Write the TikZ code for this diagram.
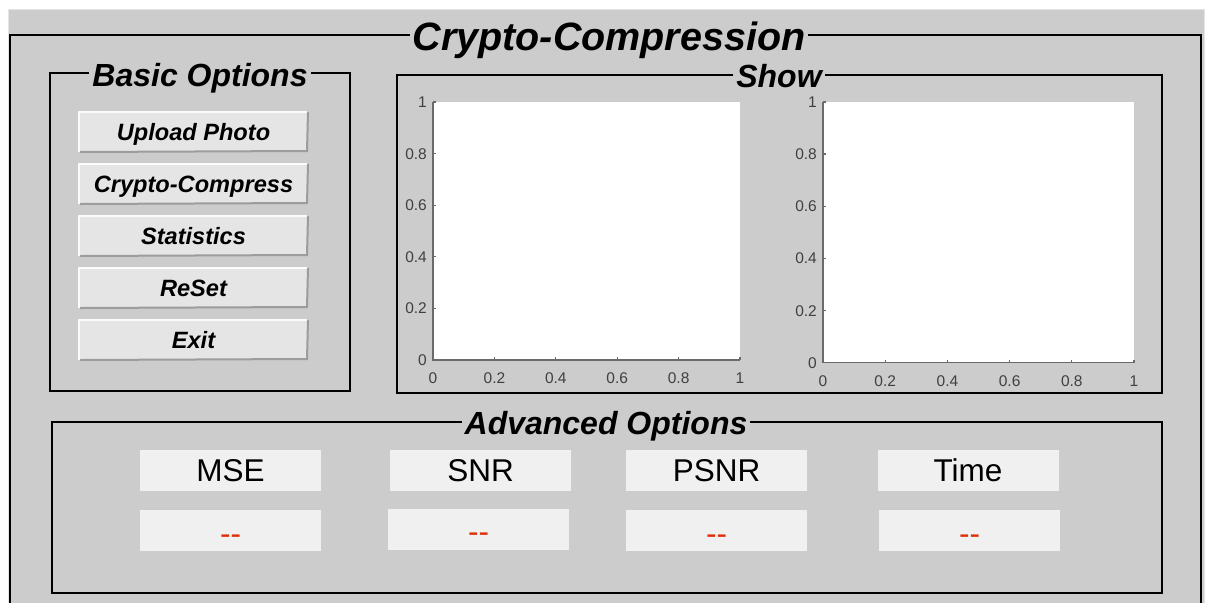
\documentclass[tikz,border=0pt]{standalone}
\usepackage{fontspec}
\setmainfont{Liberation Sans}

\definecolor{panel}{HTML}{CCCCCC}
\definecolor{panelrim}{HTML}{E4E4E4}
\definecolor{btnface}{HTML}{E5E5E5}
\definecolor{btnshade}{HTML}{9C9C9C}
\definecolor{field}{HTML}{F0F0F0}
\definecolor{axisgrey}{HTML}{6A6A6A}
\definecolor{ticktext}{HTML}{404040}
\definecolor{valred}{HTML}{E0300A}

\tikzset{
  frameline/.style={line width=2pt, black},
  grouptitle/.style={fill=panel, inner xsep=3pt, inner ysep=0pt, anchor=base,
    font=\bfseries\itshape\fontsize{32}{32}\selectfont},
  pushbtn/.style={fill=btnface, draw=none, outer sep=0pt, inner sep=0pt,
    minimum width=229pt, minimum height=40pt, text height=17pt, text depth=0pt,
    font=\bfseries\itshape\fontsize{23.6}{23.6}\selectfont},
  fieldbox/.style={fill=field, draw=none, outer sep=0pt, inner sep=0pt,
    minimum width=181pt, minimum height=41pt, text height=22.5pt, text depth=0pt,
    font=\fontsize{31.5}{31.5}\selectfont},
  valuebox/.style={fieldbox, text=valred, text height=27pt},
  axisline/.style={axisgrey, line width=1.3pt},
  ticklabel/.style={inner sep=0pt, text=ticktext, text height=11pt, text depth=0pt,
    font=\fontsize{15.5}{15.5}\selectfont},
}

% empty plot area: name, left, right, bottom, top
\newcommand{\plotaxes}[5]{%
  \fill[white] (#2,#5) rectangle (#3,#4);
  \draw[axisline] (#2,#5) -- (#2,#4) -- (#3,#4);
  \foreach \v/\t [count=\k from 0] in {0/0,0.2/0.2,0.4/0.4,0.6/0.6,0.8/0.8,1/1} {
    \pgfmathsetmacro\yy{#4-\v*(#4-#5)}
    \pgfmathsetmacro\xx{#2+\v*(#3-#2)}
    \draw[axisline] (#2,\yy) -- ++(3,0);
    \draw[axisline] (\xx,#4) -- ++(0,-3);
    \node[ticklabel, anchor=east] (#1y\k) at (#2-6,\yy) {\t};
    \node[ticklabel] (#1x\k) at (\xx,#4+18) {\t};
  }
}

\begin{document}
\begin{tikzpicture}[x=1pt, y=-1pt]
\useasboundingbox (0,0) rectangle (1206,603);
\fill[white] (0,0) rectangle (1206,603);

% window panel
\fill[panel] (8,9) rectangle (1204,603);
\draw[panelrim, line width=1pt] (8,603) -- (8,9) -- (1204,9) -- (1204,603);

% outer group
\draw[frameline] (10,603) -- (10,35) -- (1201,35) -- (1201,603);
\node[grouptitle, font=\bfseries\itshape\fontsize{39.5}{39.5}\selectfont] (title) at (609,50) {Crypto-Compression};

% basic options group
\draw[frameline] (50,73) rectangle (350,391);
\node[grouptitle] (basic) at (200,86) {Basic Options};

\foreach \lbl/\nm [count=\i from 0] in {Upload Photo/upload, Crypto-Compress/crypt, Statistics/stats, ReSet/reset, Exit/exit} {
  \node[pushbtn] (\nm) at (193.5,132+52*\i) {\lbl};
  \draw[btnshade, line width=2pt] ([xshift=1pt]\nm.south west) -- ([xshift=-1pt,yshift=1pt]\nm.south east) -- (\nm.north east);
  \draw[white!85!btnface, line width=1.2pt] (\nm.south west) -- (\nm.north west) -- ([xshift=-1pt]\nm.north east);
}

% show group
\draw[frameline] (397,75) rectangle (1162,393);
\node[grouptitle] (show) at (779,87) {Show};

\plotaxes{ax}{433}{740}{360}{102}
\plotaxes{bx}{823}{1134}{362.7}{102}

% advanced options group
\draw[frameline] (52,422) rectangle (1162,593);
\node[grouptitle] (adv) at (606,434) {Advanced Options};

\node[fieldbox] (mse)  at (230.5,470.5) {MSE};
\node[fieldbox] (snr)  at (480.5,470.5) {SNR};
\node[fieldbox] (psnr) at (716.5,470.5) {PSNR};
\node[fieldbox] (time) at (968,470.5) {Time};

% value fields
\node[valuebox] (msev)  at (230.5,530.5) {-\kern0pt-};
\node[valuebox] (snrv)  at (478.5,529) {-\kern0pt-};
\node[valuebox] (psnrv) at (716.5,530.5) {-\kern0pt-};
\node[valuebox] (timev) at (969.5,530.5) {-\kern0pt-};
\end{tikzpicture}
\end{document}
